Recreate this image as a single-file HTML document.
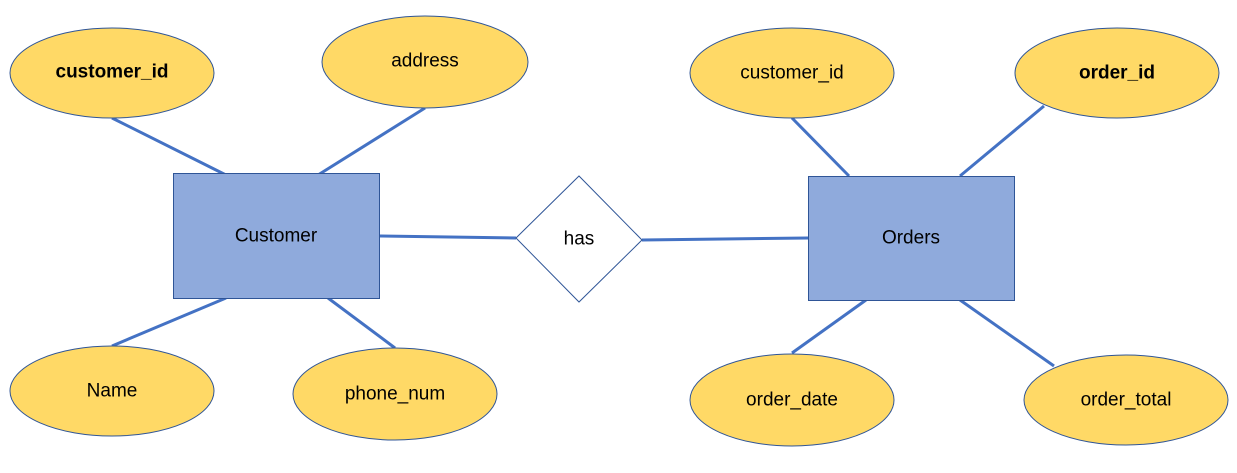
<!DOCTYPE html>
<html><head><meta charset="utf-8"><style>html,body{margin:0;padding:0;background:#fff}</style></head>
<body>
<svg width="1237" height="468" xmlns="http://www.w3.org/2000/svg" font-family="Liberation Sans, sans-serif" font-size="19">
<g stroke="#4472C4" stroke-width="3">
<line x1="112" y1="118" x2="226" y2="175"/>
<line x1="425" y1="108" x2="318" y2="175"/>
<line x1="226" y1="298" x2="112" y2="346"/>
<line x1="328" y1="298" x2="395" y2="348"/>
<line x1="379" y1="236" x2="516" y2="238"/>
<line x1="642" y1="240" x2="808" y2="238"/>
<line x1="792" y1="118" x2="849" y2="176"/>
<line x1="1044" y1="106" x2="960" y2="176"/>
<line x1="866" y1="300" x2="792" y2="353"/>
<line x1="960" y1="300" x2="1054" y2="366"/>
</g>
<g fill="#FFD966" stroke="#2F5597" stroke-width="1">
<ellipse cx="112" cy="73" rx="102" ry="45"/>
<ellipse cx="425" cy="62" rx="103" ry="46"/>
<ellipse cx="112" cy="391" rx="102" ry="45"/>
<ellipse cx="395" cy="394" rx="102" ry="46"/>
<ellipse cx="792" cy="73" rx="102" ry="45"/>
<ellipse cx="1117" cy="73" rx="102" ry="45"/>
<ellipse cx="792" cy="400" rx="102" ry="46"/>
<ellipse cx="1126" cy="400" rx="102" ry="45"/>
</g>
<g fill="#8FAADC" stroke="#2F5597" stroke-width="1">
<rect x="173.5" y="173.5" width="206" height="125"/>
<rect x="808.5" y="176.5" width="206" height="124"/>
</g>
<polygon points="516,238 579,176 642,240 579,302" fill="#fff" stroke="#2F5597" stroke-width="1"/>
<g fill="#000" text-anchor="middle" dominant-baseline="central">
<text x="112" y="72" font-weight="bold">customer_id</text>
<text x="425" y="61">address</text>
<text x="112" y="391">Name</text>
<text x="395" y="394">phone_num</text>
<text x="276" y="236">Customer</text>
<text x="579" y="239">has</text>
<text x="911" y="238">Orders</text>
<text x="792" y="73">customer_id</text>
<text x="1117" y="73" font-weight="bold">order_id</text>
<text x="792" y="400">order_date</text>
<text x="1126" y="400">order_total</text>
</g>
</svg>
</body></html>
